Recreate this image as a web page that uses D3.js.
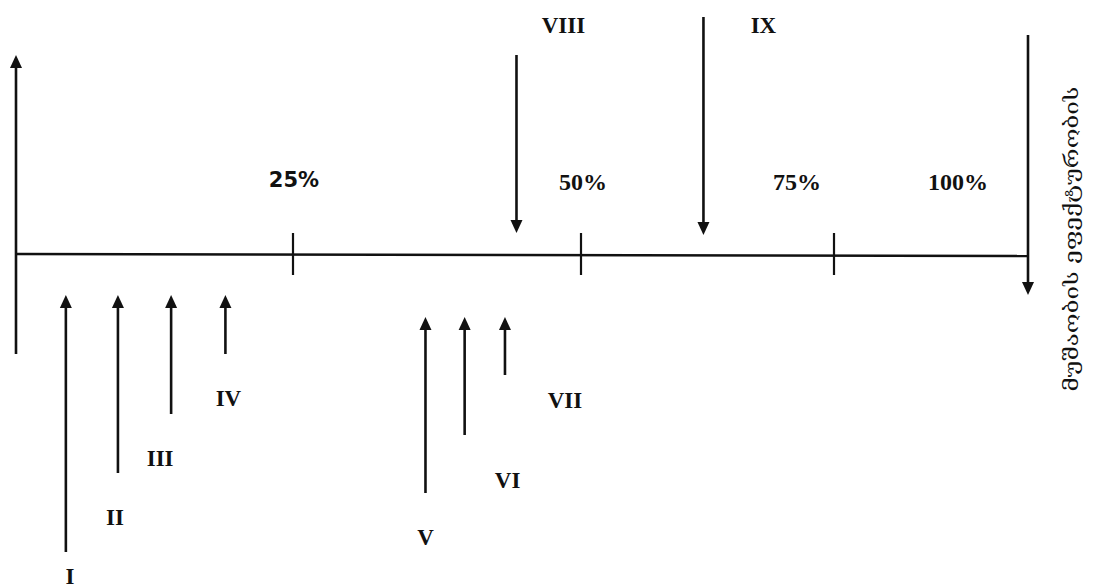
<!DOCTYPE html>
<html><head><meta charset="utf-8">
<script src="https://cdn.jsdelivr.net/npm/d3@7"></script>
<style>html,body{margin:0;padding:0;background:#fff;} svg{display:block}</style>
</head><body>
<svg id="c" width="1094" height="588"></svg>
<script>
// ---- data ----
const categories = ["I","II","III","IV","V","VI","VII","VIII","IX"];
const positions  = [4.5, 9.2, 14.0, 18.9, 36.5, 39.9, 43.4, 44.4, 62.1];   // % along the axis
const tails      = [-119.2, -87.6, -64, -40, -95.6, -72.4, -48.4, 79.6, 94.8];
const tips       = [-16.4, -16.4, -16.4, -16.4, -25.2, -25.2, -25.2, 8.4, 7.6];
const tickValues = [25, 50, 75];
const tickLabels = ["25%", "50%", "75%", "100%"];
const tickLabelValues = [25, 50, 75, 100];
const axisLabel  = "მუშაობის ეფექტურობის";
const leftAxis   = [-40, 79.6];   // tail, tip
const rightAxis  = [87.6, -16.4]; // tail, tip

// ---- layout ----
const svg = d3.select("#c");
const x = d3.scaleLinear().domain([0,25,50,75,100]).range([16,293,581,834,1028]);
const y = d3.scaleLinear().domain([0,100]).range([254,4]);
const ink = "#111";
const headL = 13, headW = 6;
const labelOff = [[4,24],[-3,44],[-11,44],[3,44],[0,44],[43,45],[60,25],[47,-30],[60,8]];
const tickLabelOff = [[1,-74],[2,-72],[-37,-72],[-70,-72]];
const tickLabelFont = ["DejaVu Sans","Liberation Serif","Liberation Serif","Liberation Serif"];
const tickLabelSize = [21, 24, 24, 24];

function arrow(xv, tailV, tipV) {
  const xp = x(xv), yt = y(tailV), yh = y(tipV);
  const dir = yh < yt ? 1 : -1; // 1 = pointing up
  svg.append("line").attr("x1", xp).attr("x2", xp)
    .attr("y1", yt).attr("y2", yh + dir*headL*0.6)
    .attr("stroke", ink).attr("stroke-width", 2.6);
  svg.append("path")
    .attr("d", `M${xp},${yh} L${xp-headW},${yh+dir*headL} L${xp+headW},${yh+dir*headL} Z`)
    .attr("fill", ink);
}

// main horizontal axis
svg.append("line").attr("x1", x(0)).attr("x2", x(100))
  .attr("y1", y(0)).attr("y2", y(0)+2)
  .attr("stroke", ink).attr("stroke-width", 2.6);

// ticks
svg.selectAll("line.tick").data(tickValues).enter().append("line")
  .attr("class","tick")
  .attr("x1", d => x(d)).attr("x2", d => x(d))
  .attr("y1", y(0)-21).attr("y2", y(0)+21)
  .attr("stroke", ink).attr("stroke-width", 2.2);

// tick labels
tickLabels.forEach((t,i) => {
  svg.append("text")
    .attr("x", x(tickLabelValues[i]) + tickLabelOff[i][0])
    .attr("y", y(0) + tickLabelOff[i][1])
    .attr("text-anchor","middle").attr("dominant-baseline","central")
    .attr("font-family", tickLabelFont[i]).attr("font-weight", "bold")
    .attr("font-size", tickLabelSize[i]).attr("fill", ink)
    .text(t);
});

// boundary arrows
arrow(0, leftAxis[0], leftAxis[1]);
arrow(100, rightAxis[0], rightAxis[1]);

// factor arrows
categories.forEach((c,i) => {
  arrow(positions[i], tails[i], tips[i]);
  svg.append("text")
    .attr("x", x(positions[i]) + labelOff[i][0])
    .attr("y", y(tails[i]) + labelOff[i][1])
    .attr("text-anchor","middle").attr("dominant-baseline","central")
    .attr("font-family","Liberation Serif").attr("font-weight","bold")
    .attr("font-size", 23).attr("fill", ink)
    .text(c);
});

// vertical axis label (Georgian)
svg.append("text")
  .attr("transform", `translate(${x(100)+43},${y(6)}) rotate(-90)`)
  .attr("text-anchor","middle").attr("dominant-baseline","central")
  .attr("font-family","DejaVu Serif").attr("font-size", 19).attr("fill", ink)
  .attr("textLength", 305).attr("lengthAdjust","spacingAndGlyphs")
  .text(axisLabel);
</script>
</body></html>
